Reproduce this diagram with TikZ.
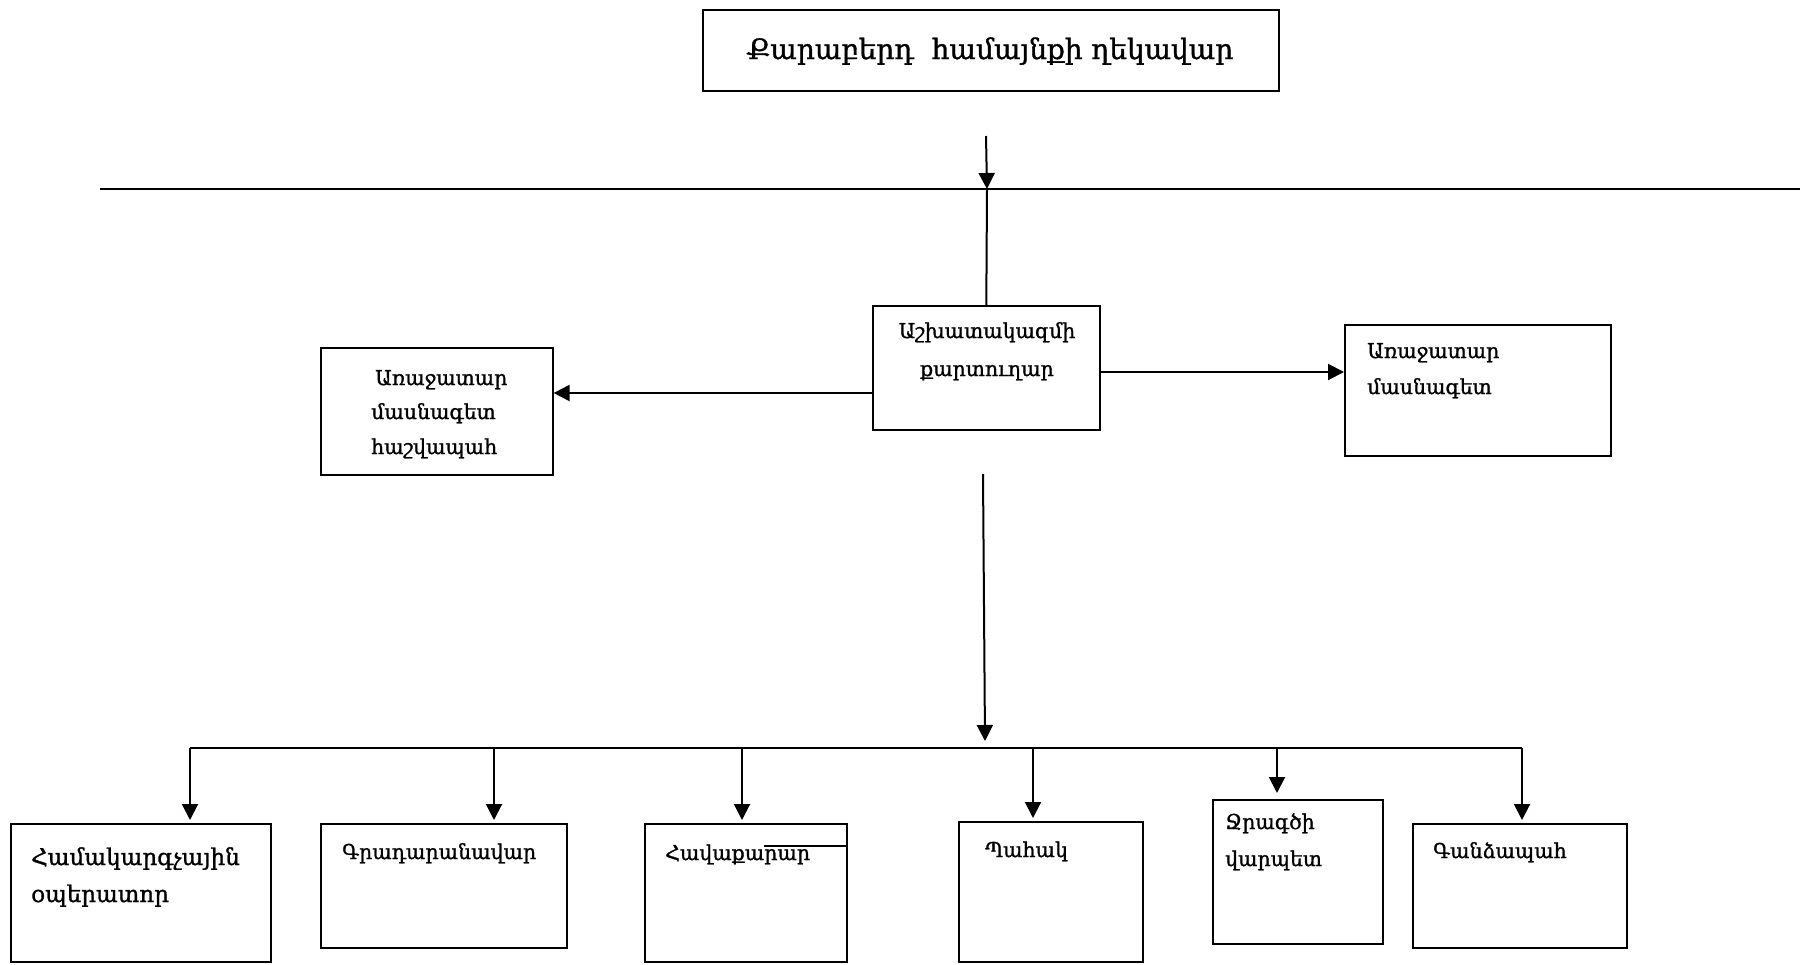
\documentclass[tikz,border=0pt]{standalone}
\usepackage{fontspec}
\newfontfamily\arm[FakeBold=1.2]{DejaVu Serif}
\usetikzlibrary{arrows.meta}
\begin{document}
\begin{tikzpicture}[x=1pt,y=-1pt,
  box/.style={draw, line width=1.6pt, inner sep=0pt, anchor=north west},
  lbl/.style={font=\arm\fontsize{20.5}{24}\selectfont, anchor=base west, inner sep=0pt},
  clbl/.style={font=\arm\fontsize{20.5}{24}\selectfont, anchor=base, inner sep=0pt},
  arr/.style={line width=2pt, -{Triangle[width=16pt,length=16pt]}},
  ln/.style={line width=2pt}]
\useasboundingbox (0,0) rectangle (1807,964);
% boxes
\node[box, minimum width=576pt, minimum height=81pt] (top) at (702,9) {};
\node[box, minimum width=227pt, minimum height=124pt] (cb) at (872,305) {};
\node[box, minimum width=232pt, minimum height=127pt] (lb) at (320,347) {};
\node[box, minimum width=266pt, minimum height=131pt] (rb) at (1344,324) {};
\node[box, minimum width=260pt, minimum height=138pt] (b1) at (10,823) {};
\node[box, minimum width=246pt, minimum height=124pt] (b2) at (320,823) {};
\node[box, minimum width=202pt, minimum height=138pt] (b3) at (644,823) {};
\node[box, minimum width=184pt, minimum height=140pt] (b4) at (958,821) {};
\node[box, minimum width=170pt, minimum height=144pt] (b5) at (1212,799) {};
\node[box, minimum width=214pt, minimum height=124pt] (b6) at (1412,823) {};
% texts
\node[clbl, font=\arm\fontsize{28}{32}\selectfont] (ttop) at (990,59) {Քարաբերդ\ \ համայնքի ղեկավար};
\node[clbl] (tcb1) at (987,338) {Աշխատակազմի};
\node[clbl] (tcb2) at (987,376) {քարտուղար};
\node[lbl] (tlb1) at (375,385) {Առաջատար};
\node[lbl] (tlb2) at (371,419) {մասնագետ};
\node[lbl] (tlb3) at (371,454) {հաշվապահ};
\node[lbl] (trb1) at (1367,358) {Առաջատար};
\node[lbl] (trb2) at (1367,394) {մասնագետ};
\node[lbl, font=\arm\fontsize{23}{26}\selectfont] (tb1a) at (31,865) {Համակարգչային};
\node[lbl, font=\arm\fontsize{23}{26}\selectfont] (tb1b) at (31,902) {օպերատոր};
\node[lbl] (tb2) at (342,859) {Գրադարանավար};
\node[lbl] (tb3) at (665,860) {Հավաքարար};
\node[lbl] (tb4) at (985,857) {Պահակ};
\node[lbl] (tb5a) at (1225,829) {Ջրագծի};
\node[lbl] (tb5b) at (1225,866) {վարպետ};
\node[lbl] (tb6) at (1433,858) {Գանձապահ};
% stray line in b3
\coordinate (s3) at (764,846);
\draw[line width=1.6pt] (s3) -- (s3 -| b3.east);
% top connectors
\coordinate (a0) at (986,136);
\coordinate (hj) at (987,189);
\coordinate (hl) at (100,189);
\coordinate (hr) at (1800,189);
\draw[ln] (hl) -- (hr);
\draw[arr] (a0) -- (hj);
\draw[ln] (hj) -- (cb.north);
% side arrows
\coordinate (yl) at (0,393);
\coordinate (yr) at (0,372);
\draw[arr] (cb.west |- yl) -- (lb.east |- yl);
\draw[arr] (cb.east |- yr) -- (rb.west |- yr);
% down arrow
\coordinate (v0) at (983,474);
\coordinate (v1) at (985,741);
\draw[arr] (v0) -- (v1);
% bus
\coordinate (d1) at (190,748);
\coordinate (d2) at (494,748);
\coordinate (d3) at (742,748);
\coordinate (d4) at (1033,748);
\coordinate (d5) at (1277,748);
\coordinate (d6) at (1522,748);
\draw[ln] (d1) -- (d6);
\draw[arr, shorten >=3pt] (d1) -- (d1 |- b1.north);
\draw[arr, shorten >=3pt] (d2) -- (d2 |- b2.north);
\draw[arr, shorten >=3pt] (d3) -- (d3 |- b3.north);
\draw[arr, shorten >=3pt] (d4) -- (d4 |- b4.north);
\draw[arr, shorten >=6pt] (d5) -- (d5 |- b5.north);
\draw[arr, shorten >=3pt] (d6) -- (d6 |- b6.north);
\end{tikzpicture}
\end{document}
